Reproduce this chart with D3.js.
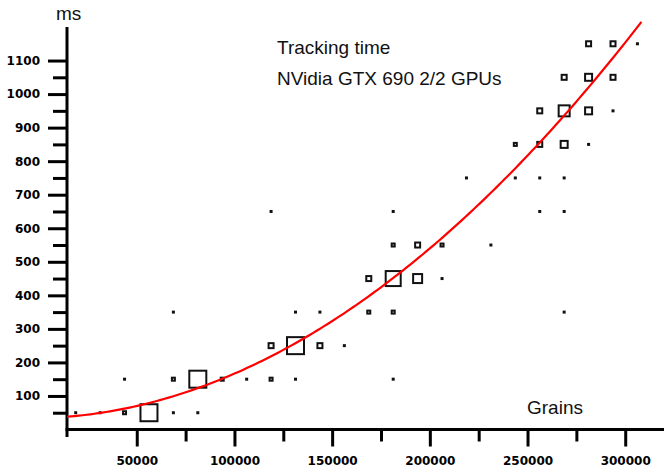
<!DOCTYPE html>
<html>
<head>
<meta charset="utf-8">
<script src="https://cdn.jsdelivr.net/npm/d3@7"></script>
<style>
  body { margin: 0; background: #fff; }
  .tick text { font-family: "DejaVu Sans", sans-serif; font-weight: bold; font-size: 12px; fill: #000; }
  .note { font-family: "Liberation Sans", Arial, sans-serif; font-size: 19px; fill: #111; }
</style>
</head>
<body>
<div id="chart"></div>
<script>
////////////////////////////////////////////////////////////
//////////////////////// Data //////////////////////////////
////////////////////////////////////////////////////////////
// binned observations: grains (x), tracking time in ms (y), number of runs in the bin
var pointGrains = [
  18750, 31250, 43750, 56250, 68750, 81250,
  43750, 68750, 81250, 93750, 106250, 118750, 131250, 181250,
  118750, 131250, 143750, 156250,
  68750, 131250, 143750, 168750, 181250, 268750,
  168750, 181250, 193750, 206250,
  181250, 193750, 206250, 231250,
  118750, 181250, 256250, 268750,
  218750, 243750, 256250, 268750,
  243750, 256250, 268750, 281250,
  256250, 268750, 281250, 293750,
  268750, 281250, 293750,
  281250, 293750, 306250
];
var pointMs = [
  50, 50, 50, 50, 50, 50,
  150, 150, 150, 150, 150, 150, 150, 150,
  250, 250, 250, 250,
  350, 350, 350, 350, 350, 350,
  450, 450, 450, 450,
  550, 550, 550, 550,
  650, 650, 650, 650,
  750, 750, 750, 750,
  850, 850, 850, 850,
  950, 950, 950, 950,
  1050, 1050, 1050,
  1150, 1150, 1150
];
var pointCount = [
  1, 1, 2, 9, 1, 1,
  1, 2, 9, 2, 1, 2, 1, 1,
  3, 9, 3, 1,
  1, 1, 1, 2, 2, 1,
  3, 8, 5, 1,
  2, 3, 2, 1,
  1, 1, 1, 1,
  1, 1, 1, 1,
  2, 3, 4, 1,
  3, 6, 4, 1,
  3, 4, 3,
  3, 3, 1
];

var yMajor = [100, 200, 300, 400, 500, 600, 700, 800, 900, 1000, 1100];
var yMinor = [50, 150, 250, 350, 450, 550, 650, 750, 850, 950, 1050];
var xMajor = [50000, 100000, 150000, 200000, 250000, 300000];
var xMinor = [75000, 125000, 175000, 225000, 275000];

// quadratic trend fitted to the runs: ms = a + b*g + c*g^2
var fitCoef = [33.7, 12.7e-5, 120.2e-10];
var fitRange = [14300, 310200];

////////////////////////////////////////////////////////////
//////////////////////// Setup /////////////////////////////
////////////////////////////////////////////////////////////
var width = 664, height = 470;
var plotLeft = 67, axisY = 429.5, plotTop = 27;

var x = d3.scaleLinear().domain([14300, 320000]).range([plotLeft, 664.3]);
var y = d3.scaleLinear().domain([0, 1200]).range([axisY, plotTop]);
var side = d3.scaleLinear().domain([1, 9]).range([3, 19]);

var svg = d3.select("#chart").append("svg")
  .attr("width", width)
  .attr("height", height);

////////////////////////////////////////////////////////////
//////////////////////// Axes //////////////////////////////
////////////////////////////////////////////////////////////
function styleAxis(g) {
  g.select(".domain").remove();
  g.selectAll(".tick line").attr("stroke", "#000").attr("stroke-width", 3);
}

svg.append("g")
  .attr("transform", "translate(" + plotLeft + ",0)")
  .call(d3.axisLeft(y).tickValues(yMinor).tickSize(14).tickFormat(""))
  .call(styleAxis);

svg.append("g")
  .attr("transform", "translate(" + plotLeft + ",0)")
  .call(d3.axisLeft(y).tickValues(yMajor).tickSize(19).tickPadding(8).tickFormat(d3.format("d")))
  .call(styleAxis);

svg.append("g")
  .attr("transform", "translate(0," + axisY + ")")
  .call(d3.axisBottom(x).tickValues(xMinor).tickSize(12).tickFormat(""))
  .call(styleAxis);

svg.append("g")
  .attr("transform", "translate(0," + axisY + ")")
  .call(d3.axisBottom(x).tickValues(xMajor).tickSize(17).tickPadding(10).tickFormat(d3.format("d")))
  .call(styleAxis);

svg.append("line")
  .attr("x1", plotLeft).attr("x2", plotLeft)
  .attr("y1", plotTop).attr("y2", 437)
  .attr("stroke", "#000").attr("stroke-width", 3);

svg.append("line")
  .attr("x1", plotLeft - 1.5).attr("x2", width)
  .attr("y1", axisY).attr("y2", axisY)
  .attr("stroke", "#000").attr("stroke-width", 3);

////////////////////////////////////////////////////////////
//////////////////////// Points ////////////////////////////
////////////////////////////////////////////////////////////
var points = pointGrains.map(function(g, i) {
  return {g: g, ms: pointMs[i], n: pointCount[i]};
});

svg.append("g").selectAll("rect")
  .data(points)
  .enter().append("rect")
  .attr("x", function(d) { return x(d.g) - side(d.n) / 2 + 1; })
  .attr("y", function(d) { return y(d.ms) - side(d.n) / 2 + 1; })
  .attr("width", function(d) { return side(d.n) - 2; })
  .attr("height", function(d) { return side(d.n) - 2; })
  .attr("fill", "#fff")
  .attr("stroke", "#111")
  .attr("stroke-width", 2);

////////////////////////////////////////////////////////////
//////////////////////// Trend /////////////////////////////
////////////////////////////////////////////////////////////
var trend = d3.range(fitRange[0], fitRange[1] + 1, 2000).map(function(g) {
  return {g: g, ms: fitCoef[0] + fitCoef[1] * g + fitCoef[2] * g * g};
});

svg.append("path")
  .datum(trend)
  .attr("fill", "none")
  .attr("stroke", "#ff0000")
  .attr("stroke-width", 2.2)
  .attr("d", d3.line().x(function(d) { return x(d.g); }).y(function(d) { return y(d.ms); }));

////////////////////////////////////////////////////////////
//////////////////////// Labels ////////////////////////////
////////////////////////////////////////////////////////////
svg.append("text").attr("class", "note").attr("x", 56).attr("y", 20).text("ms");
svg.append("text").attr("class", "note").attr("x", 277).attr("y", 54).text("Tracking time");
svg.append("text").attr("class", "note").attr("x", 277).attr("y", 85).text("NVidia GTX 690 2/2 GPUs");
svg.append("text").attr("class", "note").attr("x", 527).attr("y", 414).text("Grains");
</script>
</body>
</html>
